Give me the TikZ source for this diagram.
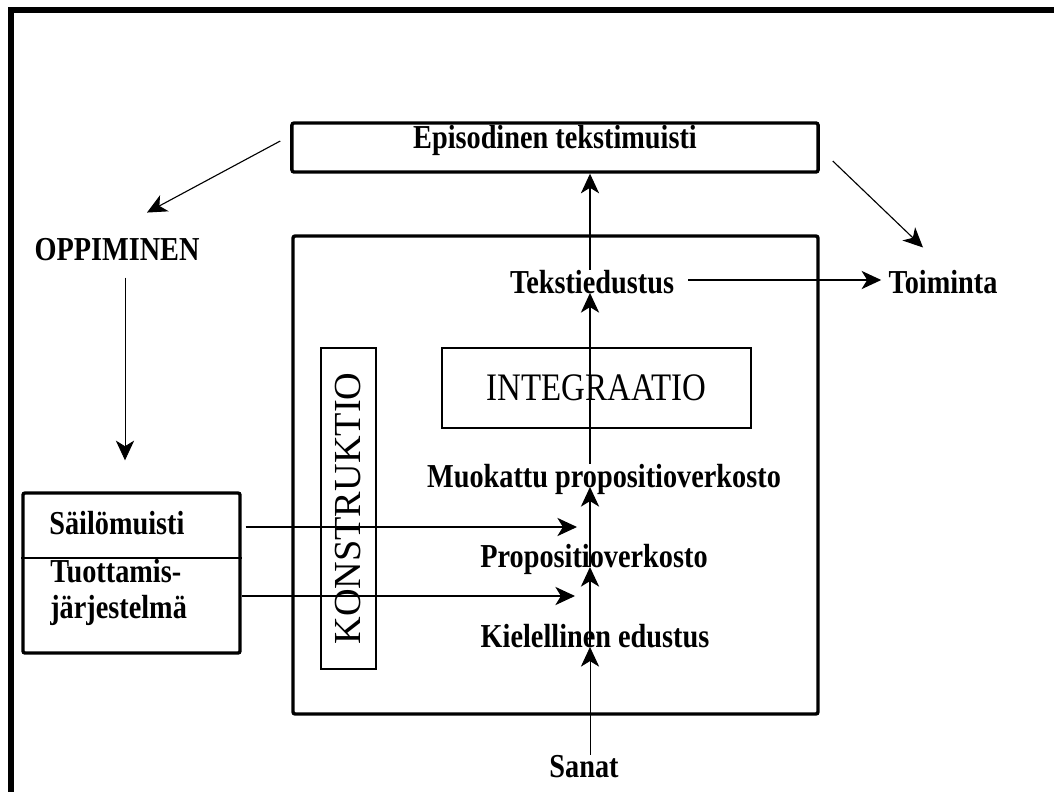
\documentclass[tikz,border=0pt]{standalone}
\usepackage{fontspec}
\setmainfont{Liberation Serif}[FakeStretch=0.845]
\newfontfamily\plainserif{Liberation Serif}
\usetikzlibrary{positioning,arrows.meta,calc}

\begin{document}
\begin{tikzpicture}[x=0.025cm,y=-0.025cm,
        lbl/.style={inner sep=0pt,font=\fontsize{23.8}{25.6}\selectfont\bfseries},
        heavy/.style={draw,line width=2.4pt,rounded corners=1.5pt},
        thinbox/.style={draw,line width=0.9pt},
        arr/.style={line width=0.8pt,-{Stealth[length=14pt,width=13pt,inset=4pt]}},
        faint/.style={line width=0.55pt}
    ]
    \useasboundingbox (0,0) rectangle (1054,791);
    \clip (0,0) rectangle (1054,791);
    %
    \draw[line width=3.9pt] (11,800) -- (11,10) -- (1060,10);%frame
    %
    \node[heavy,lbl,minimum width=13.15cm,minimum height=1.225cm,
        text height=0.64cm,text depth=0.585cm] (epis) at (555,147.5) {Episodinen tekstimuisti};
    \draw[heavy] (293,236) rectangle (818,714);
    \node[thinbox,rotate=90,minimum width=8.025cm,minimum height=1.375cm,
        font=\plainserif\fontsize{27.2}{29}\selectfont] (konstr) at (348.5,508.5) {KONSTRUKTIO};
    \node[thinbox,minimum width=7.725cm,minimum height=2cm,
        font=\fontsize{27.7}{30}\selectfont] (integ) at (596.5,388) {INTEGRAATIO};
    %
    \node[heavy,minimum width=5.425cm,minimum height=4cm] (memory) at (131.5,573) {};
    \draw[line width=1.6pt] (memory.west |- 0,558) -- (memory.east |- 0,558);
    \node[lbl,anchor=base west] (sail) at (49,534) {Säilömuisti};
    \node[lbl,anchor=north west,align=left] (tuot) at (50,559) {Tuottamis-\\järjestelmä};
    %
    \node[lbl,anchor=base] (oppi) at (117,260) {OPPIMINEN};
    \node[lbl,anchor=base] (teks) at (592,293) {Tekstiedustus};
    \node[lbl,anchor=base] (toim) at (943,293) {Toiminta};
    \node[lbl,anchor=base] (muok) at (604,487) {Muokattu propositioverkosto};
    \node[lbl,anchor=base] (prop) at (594,567) {Propositioverkosto};
    \node[lbl,anchor=base] (kiel) at (595,647) {Kielellinen edustus};
    \node[lbl,anchor=base] (sanat) at (584,777) {Sanat};
    %
    \coordinate (col) at (590,0);
    \coordinate (in1) at (577,527);
    \coordinate (in2) at (575,596);
    %
    \draw[arr,faint] (sanat.north -| col) -- (kiel.base -| col);
    \draw[arr] (kiel.base -| col) -- (prop.base -| col);
    \draw[arr] (prop.base -| col) -- (muok.base -| col);
    \draw[arr] (muok.north -| col) -- (teks.base -| col);
    \draw[arr] (teks.north -| col) -- (epis.south -| col);
    \draw[arr] ($(teks.base east)+(14,-13)$) -- ($(toim.base west)+(-7,-13)$);
    \draw[arr] ($(epis.west)+(-10,-6.5)$) -- ($(oppi.north)+(30,-25)$);
    \draw[arr] ($(epis.east)+(13,13.5)$) -- ($(toim.north)+(-20,-22)$);
    \draw[arr,faint] ($(oppi.south)+(8,17)$) -- ($(memory.north)+(-6.5,-31)$);
    \draw[arr] ($(memory.east |- in1)+(4,0)$) -- (in1);
    \draw[arr] (memory.east |- in2) -- (in2);
    %
\end{tikzpicture}
\end{document}
